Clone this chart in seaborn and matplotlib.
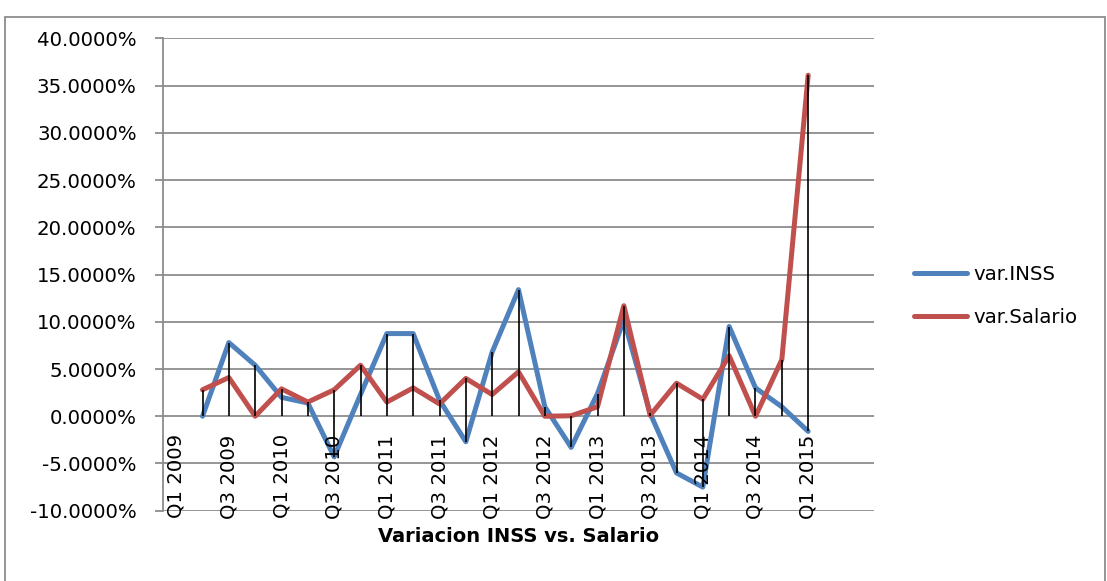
import numpy as np
import pandas as pd
import matplotlib
matplotlib.use("Agg")
import matplotlib.pyplot as plt
from matplotlib.lines import Line2D
from matplotlib.patches import Rectangle
from matplotlib.ticker import FuncFormatter, MultipleLocator
import seaborn as sns

# Quarterly variation (%) of INSS contributions vs. salaries
quarters = ["Q1 2009", "Q2 2009", "Q3 2009", "Q4 2009",
            "Q1 2010", "Q2 2010", "Q3 2010", "Q4 2010",
            "Q1 2011", "Q2 2011", "Q3 2011", "Q4 2011",
            "Q1 2012", "Q2 2012", "Q3 2012", "Q4 2012",
            "Q1 2013", "Q2 2013", "Q3 2013", "Q4 2013",
            "Q1 2014", "Q2 2014", "Q3 2014", "Q4 2014",
            "Q1 2015"]
tick_labels = ["Q1 2009", "Q3 2009", "Q1 2010", "Q3 2010", "Q1 2011",
               "Q3 2011", "Q1 2012", "Q3 2012", "Q1 2013", "Q3 2013",
               "Q1 2014", "Q3 2014", "Q1 2015"]
var_inss = [np.nan, 0.0, 7.8, 5.4,
            2.0, 1.4, -4.3, 2.3,
            8.75, 8.75, 1.7, -2.7,
            6.8, 13.4, 1.0, -3.3,
            2.4, 10.2, 0.3, -6.0,
            -7.5, 9.5, 3.0, 1.0,
            -1.6]
var_salario = [np.nan, 2.8, 4.1, 0.0,
               2.9, 1.5, 2.8, 5.4,
               1.5, 3.0, 1.3, 4.0,
               2.3, 4.7, 0.0, 0.05,
               1.0, 11.7, 0.1, 3.5,
               1.8, 6.4, 0.0, 6.0,
               36.1]
series_names = ["var.INSS", "var.Salario"]
series_colors = {"var.INSS": "#4F81BD", "var.Salario": "#C0504D"}

sns.set_style("white")
plt.rcParams["font.family"] = ["DejaVu Sans"]
plt.rcParams["text.color"] = "black"
plt.rcParams["ytick.labelcolor"] = "black"

W, H = 1107, 581
fig = plt.figure(figsize=(W / 100, H / 100), dpi=100)
ax = fig.add_axes([163 / W, 1 - 510.7 / H, (874 - 163) / W, (510.7 - 38.4) / H])

pos = np.arange(len(quarters))
df = pd.DataFrame({"pos": pos, "quarter": quarters,
                   "var.INSS": var_inss, "var.Salario": var_salario})
long = df.melt(id_vars=["pos", "quarter"], value_vars=series_names,
               var_name="serie", value_name="valor").dropna()

grid_col = "#8c8c8c"
ax.set_ylim(-10, 40)
ax.set_xlim(-0.5, 26.5)
ax.yaxis.set_major_locator(MultipleLocator(5))
ax.yaxis.set_major_formatter(FuncFormatter(lambda v, _: f"{v:.4f}%"))
ax.yaxis.grid(True, color=grid_col, lw=1.3)
ax.set_axisbelow(True)
for side in ["top", "right", "bottom"]:
    ax.spines[side].set_visible(False)
ax.spines["left"].set_color(grid_col)
ax.spines["left"].set_linewidth(1.3)
ax.tick_params(axis="y", length=6, width=1.3, color=grid_col, pad=13,
               labelsize=14.2, labelcolor="black", direction="out", left=True)
ax.set_xticks([])

sns.lineplot(data=long, x="pos", y="valor", hue="serie", hue_order=series_names,
             palette=series_colors, lw=3.6, ax=ax, legend=False,
             estimator=None, sort=False,
             solid_capstyle="round", solid_joinstyle="round", zorder=3)

# drop lines from each point to the category axis
inss = np.array(var_inss, dtype=float)
sal = np.array(var_salario, dtype=float)
mask = ~np.isnan(inss)
lo = np.minimum(np.minimum(inss, sal), 0)[mask]
hi = np.maximum(np.maximum(inss, sal), 0)[mask]
ax.vlines(pos[mask], lo, hi, color="black", lw=1.2, zorder=5)

# category labels hanging below the zero line
for lab in tick_labels:
    i = quarters.index(lab)
    ax.annotate(lab, xy=(i, 0), xytext=(0, -13), textcoords="offset points",
                rotation=90, ha="center", va="top", fontsize=14.2,
                color="black", annotation_clip=False)

ax.set_xlabel("")
ax.set_ylabel("")

fig.text((163 + 874) / 2 / W, 1 - 536 / H, "Variacion INSS vs. Salario",
         ha="center", va="center", fontsize=14, fontweight="bold", color="black")

handles = [Line2D([0], [0], color=series_colors[n], lw=3.6,
                  solid_capstyle="round") for n in series_names]
fig.legend(handles, series_names, loc="center left",
           bbox_to_anchor=(914 / W, 1 - 296 / H), frameon=False,
           fontsize=14.2, handlelength=2.7, handletextpad=0.3,
           labelspacing=1.25, borderpad=0, borderaxespad=0)

fig.add_artist(Rectangle((5 / W, -0.1), 1100 / W, 1 - 17 / H + 0.1,
                         transform=fig.transFigure, fill=False,
                         ec=grid_col, lw=1.3))

fig.savefig("out.png", dpi=100)
